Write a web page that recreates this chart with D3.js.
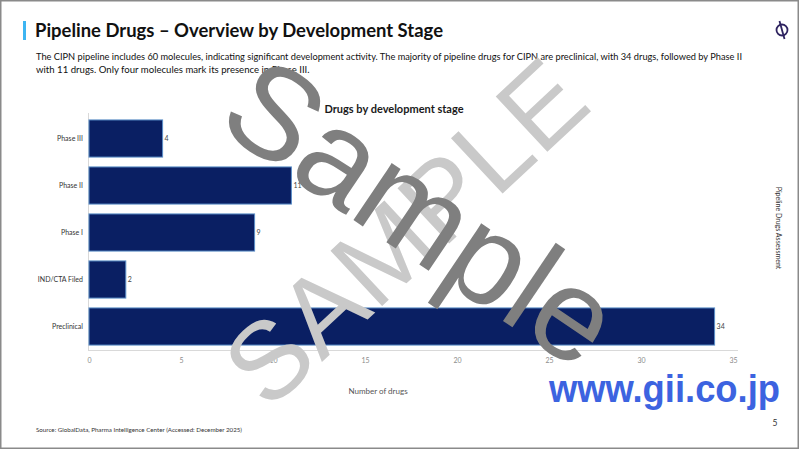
<!DOCTYPE html>
<html><head><meta charset="utf-8">
<script src="https://cdn.jsdelivr.net/npm/d3@7"></script>
<style>body{margin:0;background:#fff}svg{display:block}</style>
</head><body>
<script>
const categories = ["Phase III", "Phase II", "Phase I", "IND/CTA Filed", "Preclinical"];
const values = [4, 11, 9, 2, 34];
const xTicks = [0, 5, 10, 15, 20, 25, 30, 35];
const titleText = "Pipeline Drugs \u2013 Overview by Development Stage";
const subtitleLines = [
  "The CIPN pipeline includes 60 molecules, indicating significant development activity. The majority of pipeline drugs for CIPN are preclinical, with 34 drugs, followed by Phase II",
  "with 11 drugs. Only four molecules mark its presence in Phase III."
];
const chartTitle = "Drugs by development stage";
const axisTitle = "Number of drugs";
const sourceText = "Source: GlobalData, Pharma Intelligence Center (Accessed: December 2025)";
const sideText = "Pipeline Drugs Assessment";

const W = 800, H = 450;
const svg = d3.select("body").append("svg").attr("width", W).attr("height", H);
const font = "Lato, 'Open Sans', sans-serif";

svg.append("rect").attr("x", 0.75).attr("y", 0.75).attr("width", W - 2.5).attr("height", H - 2.5)
  .attr("fill", "#fff").attr("stroke", "#8a8a8a").attr("stroke-width", 1.5);

// header
svg.append("rect").attr("x", 23).attr("y", 21).attr("width", 3).attr("height", 19).attr("fill", "#3db5f2");
svg.append("text").attr("x", 35).attr("y", 37).text(titleText)
  .attr("font-family", font).attr("font-weight", 700).attr("font-size", 18.5).attr("fill", "#111")
  .attr("textLength", 408).attr("lengthAdjust", "spacingAndGlyphs");
subtitleLines.forEach((t, i) => {
  const tx = svg.append("text").attr("x", 36).attr("y", 60 + i * 12.5).text(t)
    .attr("font-family", font).attr("font-size", 9.6).attr("fill", "#111");
  if (i === 0) tx.attr("textLength", 706).attr("lengthAdjust", "spacingAndGlyphs");
});

// logo
const lg = svg.append("g").attr("stroke", "#2e2360").attr("fill", "none").attr("stroke-width", 1.8);
lg.append("circle").attr("cx", 782).attr("cy", 30).attr("r", 5.5);
lg.append("line").attr("x1", 779.5).attr("y1", 21).attr("x2", 784.5).attr("y2", 39);

// chart
const x = d3.scaleLinear().domain([0, 35]).range([89, 733]);
const y = d3.scaleBand().domain(categories).range([115, 350]).paddingInner(0.21).paddingOuter(0.105);

svg.append("text").attr("x", 394).attr("y", 113).attr("text-anchor", "middle").text(chartTitle)
  .attr("font-family", font).attr("font-weight", 700).attr("font-size", 11).attr("fill", "#1a1a1a");

// axis lines
svg.append("line").attr("x1", 88.5).attr("x2", 88.5).attr("y1", 113).attr("y2", 351).attr("stroke", "#d9d9d9");
svg.append("line").attr("x1", 88).attr("x2", 738).attr("y1", 350.5).attr("y2", 350.5).attr("stroke", "#d9d9d9");

const xAxis = svg.append("g").attr("transform", "translate(0,350)")
  .call(d3.axisBottom(x).tickValues(xTicks).tickSize(0).tickPadding(8));
xAxis.select(".domain").remove();
xAxis.selectAll("text").attr("font-family", font).attr("font-size", 7).attr("fill", "#8c8c8c");

const yAxis = svg.append("g").attr("transform", "translate(88,0)")
  .call(d3.axisLeft(y).tickSize(0).tickPadding(5));
yAxis.select(".domain").remove();
yAxis.selectAll("text").attr("font-family", font).attr("font-size", 7).attr("fill", "#333");

svg.append("g").selectAll("rect").data(categories).join("rect")
  .attr("x", x(0)).attr("y", d => y(d))
  .attr("width", (d, i) => x(values[i]) - x(0)).attr("height", y.bandwidth())
  .attr("fill", "#0a1f63").attr("stroke", "#5b8fc9").attr("stroke-width", 1);

svg.append("g").selectAll("text").data(categories).join("text")
  .attr("x", (d, i) => x(values[i]) + 2).attr("y", d => y(d) + y.bandwidth() / 2 + 2.5)
  .text((d, i) => values[i])
  .attr("font-family", font).attr("font-size", 7).attr("fill", "#444");

svg.append("text").attr("x", 378).attr("y", 394).attr("text-anchor", "middle").text(axisTitle)
  .attr("font-family", font).attr("font-size", 8).attr("fill", "#555");

// footer
svg.append("text").attr("x", 36).attr("y", 432).text(sourceText)
  .attr("font-family", font).attr("font-size", 6.5).attr("fill", "#333")
  .attr("textLength", 206).attr("lengthAdjust", "spacingAndGlyphs");
svg.append("text").attr("x", 775).attr("y", 426).attr("text-anchor", "middle").text("5")
  .attr("font-family", font).attr("font-size", 8.5).attr("fill", "#333");
svg.append("text").attr("transform", "translate(776,228) rotate(90)").attr("text-anchor", "middle").text(sideText)
  .attr("font-family", font).attr("font-size", 7).attr("fill", "#333");

// watermarks
svg.append("text").attr("transform", "translate(405,232) rotate(-43)").attr("text-anchor", "middle")
  .attr("dominant-baseline", "central").text("SAMPLE")
  .attr("font-family", "'Liberation Sans', Arial, sans-serif").attr("font-size", 110).attr("fill", "#c9c9c9");
svg.append("text").attr("transform", "translate(422,212) rotate(34)").attr("text-anchor", "middle")
  .attr("dominant-baseline", "central").text("Sample")
  .attr("font-family", "'Liberation Sans', Arial, sans-serif").attr("font-size", 130).attr("fill", "#7f7f7f");
svg.append("text").attr("x", 549).attr("y", 402).text("www.gii.co.jp")
  .attr("font-family", "'Liberation Sans', Arial, sans-serif").attr("font-weight", 700).attr("font-size", 38)
  .attr("fill", "#3c63e0").attr("textLength", 231).attr("lengthAdjust", "spacingAndGlyphs");
</script>
</body></html>
